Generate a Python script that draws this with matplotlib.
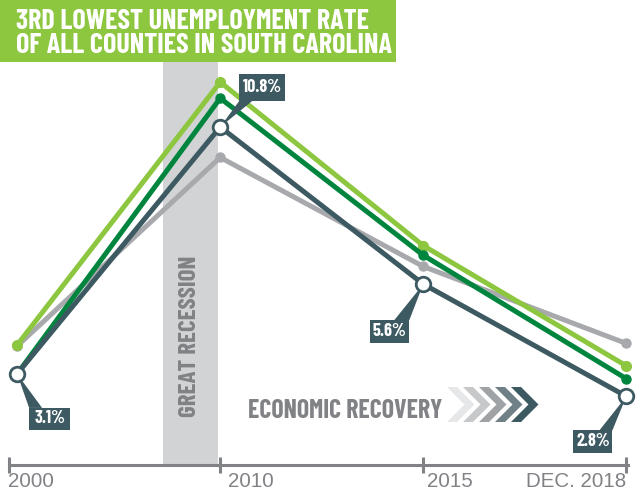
import matplotlib
matplotlib.use("Agg")
import matplotlib.pyplot as plt
import matplotlib.transforms as mtransforms
from matplotlib.patches import Polygon, Rectangle

# ---- data ----
periods = ["2000", "2010", "2015", "DEC. 2018"]
light_green = [4.0, 12.2, 7.1, 3.35]
dark_green = [3.1, 11.7, 6.8, 2.95]
gray_series = [3.97, 9.85, 6.45, 4.05]
county = [3.1, 10.8, 5.9, 2.4]
county_labels = ["3.1%", "10.8%", "5.6%", "2.8%"]

LGREEN = "#8dc63f"
DGREEN = "#00853f"
SLATE = "#3d5a62"
LGRAY = "#a7a9ac"
BAND = "#d1d3d4"
TXTGRAY = "#808285"
COND = "Barlow Condensed"
W, H = 641, 494

fig = plt.figure(figsize=(W / 100, H / 100), dpi=100)
ax = fig.add_axes([9 / W, 29 / H, 619 / W, 465 / H])
ax.set_xlim(-0.04, 3.008)
ax.set_ylim(0.26, 14.76)

x = list(range(len(periods)))

# great recession band
ax.axvspan(0.718, 0.989, ymax=0.867, color=BAND, lw=0, zorder=1)
ax.text(0.851, 4.28, "GREAT RECESSION", rotation=90, ha="center", va="center",
        family=COND, weight="bold", fontsize=18, color=TXTGRAY, zorder=1.5)

ax.plot(x, gray_series, color=LGRAY, lw=3.6, marker="o", ms=6.5, zorder=2, clip_on=False)
ax.plot(x, light_green, color=LGREEN, lw=3.6, marker="o", ms=7, zorder=2.5, clip_on=False)
ax.plot(x, dark_green, color=DGREEN, lw=3.6, marker="o", ms=6.5, zorder=3, clip_on=False)
ax.plot(x, county, color=SLATE, lw=3.6, zorder=4, clip_on=False)

# callouts for the county series: box (left, top, w, h) and pointer base, in px from the point
callouts = [
    ((12, 34, 41, 22), (12, 25)),
    ((19, -53, 46, 27), (19, 32)),
    ((-53, 36, 39, 23), (-29, -14)),
    ((-53, 34, 39, 23), (-27, -14)),
]
for xi, yi, lab, ((bl, bt, bw, bh), (p0, p1)) in zip(x, county, county_labels, callouts):
    tr = fig.dpi_scale_trans + mtransforms.ScaledTranslation(xi, yi, ax.transData)
    base_y = bt + bh if bt < 0 else bt
    ax.add_patch(Polygon([(0, 0), (p0 / 100, -base_y / 100), (p1 / 100, -base_y / 100)],
                         closed=True, fc=SLATE, ec="none", transform=tr, zorder=5, clip_on=False))
    ax.add_patch(Rectangle((bl / 100, -(bt + bh) / 100), bw / 100, bh / 100,
                           fc=SLATE, ec="none", transform=tr, zorder=7, clip_on=False))
    ax.text((bl + bw / 2) / 100, -(bt + bh / 2) / 100, lab, transform=tr,
            ha="center", va="center", color="white", family=COND, weight="bold",
            fontsize=13, zorder=8)
ax.plot(x, county, ls="none", marker="o", ms=10.5, mfc="white", mec=SLATE, mew=2.0,
        zorder=6, clip_on=False)

# axis line with ticks
for s in ["top", "right", "left"]:
    ax.spines[s].set_visible(False)
ax.spines["bottom"].set_color(TXTGRAY)
ax.spines["bottom"].set_linewidth(2.2)
ax.set_yticks([])
ax.set_xticks([-0.04, 1, 2, 3.0])
ax.tick_params(axis="x", direction="inout", length=11, width=2.2, color=TXTGRAY, labelbottom=False)
label_offsets = [(-1, "left"), (8, "left"), (4, "left"), (0, "right")]
for xi, lab, (dx, ha) in zip([-0.04, 1, 2, 3.0], periods, label_offsets):
    ax.annotate(lab, xy=(xi, 0), xycoords=("data", "axes fraction"), xytext=(dx, -7),
                textcoords="offset pixels", ha=ha, va="top", fontsize=14.8,
                family="Liberation Sans", color=TXTGRAY, annotation_clip=False)


def fx(px):
    return px / W


def fy(py):
    return 1 - py / H


# title banner
fig.patches.append(Rectangle((0, fy(62)), fx(396), 62 / H, fc=LGREEN, ec="none",
                             transform=fig.transFigure, zorder=10))
fig.text(fx(16), fy(29), "3RD LOWEST UNEMPLOYMENT RATE", ha="left", va="baseline",
         color="white", family=COND, weight="bold", fontsize=20.2, zorder=11)
fig.text(fx(16), fy(53), "OF ALL COUNTIES IN SOUTH CAROLINA", ha="left", va="baseline",
         color="white", family=COND, weight="bold", fontsize=20.2, zorder=11)

# economic recovery arrow
fig.text(fx(248), fy(418), "ECONOMIC RECOVERY", ha="left", va="baseline",
         color=TXTGRAY, family=COND, weight="bold", fontsize=18.6)
chev_colors = ["#e6e7e8", "#c7c8ca", "#a0a3a6", "#6f8186", SLATE]
top, bot, t = 387, 422, 10
hh = (bot - top) / 2
for k, c in enumerate(chev_colors):
    x0 = 447 + 16 * k
    pts = [(x0, top), (x0 + t, top), (x0 + t + hh, top + hh), (x0 + t, bot), (x0, bot), (x0 + hh, top + hh)]
    fig.patches.append(Polygon([(fx(a), fy(b)) for a, b in pts], closed=True, fc=c, ec="none",
                               transform=fig.transFigure))

fig.savefig("out.png", dpi=100)
